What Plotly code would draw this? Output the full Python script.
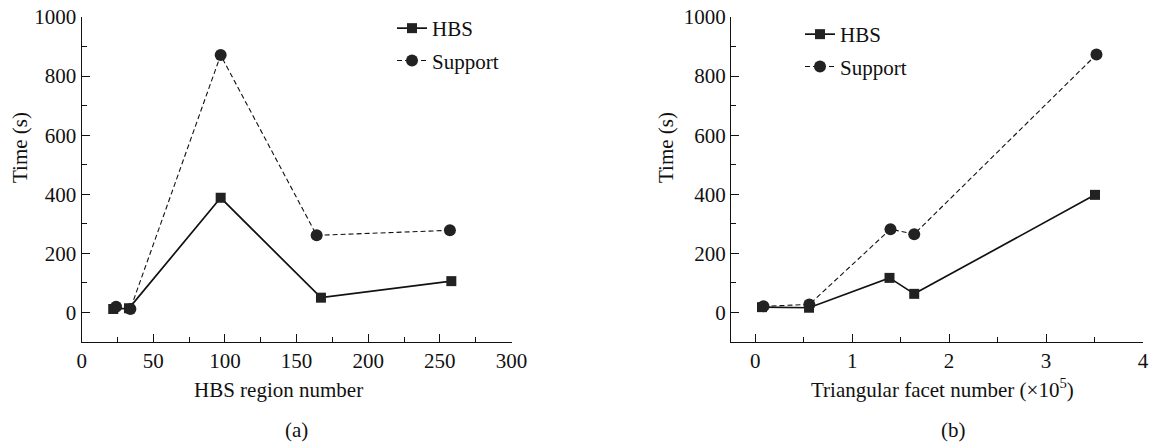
import plotly.graph_objects as go

# ---- data ----
a_hbs_x = [22, 33, 97, 167, 258]
a_hbs_y = [12, 14, 388, 50, 106]
a_sup_x = [24, 34, 97, 164, 257]
a_sup_y = [19, 12, 871, 261, 278]

b_hbs_x = [0.07, 0.555, 1.385, 1.64, 3.505]
b_hbs_y = [18, 16, 117, 63, 398]
b_sup_x = [0.085, 0.558, 1.395, 1.64, 3.52]
b_sup_y = [21, 27, 282, 265, 873]

y_ticks = [0, 200, 400, 600, 800, 1000]
a_x_ticks = [0, 50, 100, 150, 200, 250, 300]
b_x_ticks = [0, 1, 2, 3, 4]

FONT = "Liberation Serif"
FS = 21
INK = "#111111"
MK = "#222222"

W, H = 1152, 443
def px(x): return x / W
def py(y): return 1 - y / H

fig = go.Figure()

line_solid = dict(color=INK, width=1.7)
line_dash = dict(color=INK, width=1.1, dash="5px,3px")

fig.add_trace(go.Scatter(x=a_hbs_x, y=a_hbs_y, mode="lines+markers", name="HBS",
                         line=line_solid, marker=dict(symbol="square", size=10, color=MK),
                         xaxis="x", yaxis="y", legend="legend", legendgroup="a1"))
fig.add_trace(go.Scatter(x=a_sup_x, y=a_sup_y, mode="lines+markers", name="Support",
                         line=line_dash, marker=dict(symbol="circle", size=12, color=MK),
                         xaxis="x", yaxis="y", legend="legend", legendgroup="a2"))
fig.add_trace(go.Scatter(x=b_hbs_x, y=b_hbs_y, mode="lines+markers", name="HBS",
                         line=line_solid, marker=dict(symbol="square", size=10, color=MK),
                         xaxis="x2", yaxis="y2", legend="legend2", legendgroup="b1"))
fig.add_trace(go.Scatter(x=b_sup_x, y=b_sup_y, mode="lines+markers", name="Support",
                         line=line_dash, marker=dict(symbol="circle", size=12, color=MK),
                         xaxis="x2", yaxis="y2", legend="legend2", legendgroup="b2"))

common_axis = dict(showline=True, linecolor=INK, linewidth=1.3, showgrid=False, zeroline=False,
                   ticks="inside", ticklen=8, tickwidth=1.2, tickcolor=INK, automargin=False,
                   ticklabeloverflow="allow",
                   tickfont=dict(family=FONT, size=FS, color=INK), mirror=False)

ydom = [py(342), py(17)]
fig.update_layout(
    template="none",
    width=W, height=H,
    margin=dict(l=0, r=0, t=0, b=0, autoexpand=False),
    paper_bgcolor="white", plot_bgcolor="white",
    font=dict(family=FONT, size=FS, color=INK),
    xaxis=dict(domain=[px(81.7), px(511.5)], range=[0, 300], tickvals=a_x_ticks,
               minor=dict(ticks="inside", ticklen=5, tickwidth=1.2, tickcolor=INK, dtick=25, tick0=0),
               anchor="y", **common_axis),
    yaxis=dict(domain=ydom, range=[-100, 1000], tickvals=y_ticks,
               minor=dict(ticks="inside", ticklen=5, tickwidth=1.2, tickcolor=INK, dtick=100, tick0=0),
               anchor="x", **common_axis),
    xaxis2=dict(domain=[px(731), px(1143)], range=[-0.25, 4], tickvals=b_x_ticks,
                minor=dict(ticks="inside", ticklen=5, tickwidth=1.2, tickcolor=INK, dtick=0.5, tick0=0),
                anchor="y2", **common_axis),
    yaxis2=dict(domain=ydom, range=[-100, 1000], tickvals=y_ticks,
                minor=dict(ticks="inside", ticklen=5, tickwidth=1.2, tickcolor=INK, dtick=100, tick0=0),
                anchor="x2", **common_axis),
    legend=dict(x=px(392), y=py(8), xanchor="left", yanchor="top", bgcolor="rgba(0,0,0,0)",
                font=dict(family=FONT, size=FS, color=INK), tracegroupgap=2),
    legend2=dict(x=px(800), y=py(14), xanchor="left", yanchor="top", bgcolor="rgba(0,0,0,0)",
                 font=dict(family=FONT, size=FS, color=INK), tracegroupgap=2),
    showlegend=True,
)

def note(text, x, y, angle=0):
    return dict(text=text, x=px(x), y=py(y), xref="paper", yref="paper",
                xanchor="center", yanchor="middle", textangle=angle, showarrow=False,
                font=dict(family=FONT, size=FS, color=INK))

ann = [
    note("Time (s)", 20, 148, -90),
    note("Time (s)", 666, 148, -90),
    note("HBS region number", 278, 390),
    note("Triangular facet number (×10<sup>5</sup>)", 942, 388),
    note("(a)", 296, 430),
    note("(b)", 953, 430),
]
fig.update_layout(annotations=ann)

fig.write_html("out.html", config={"displayModeBar": False},
               post_script="document.body.style.margin='0';document.body.style.padding='0';")
